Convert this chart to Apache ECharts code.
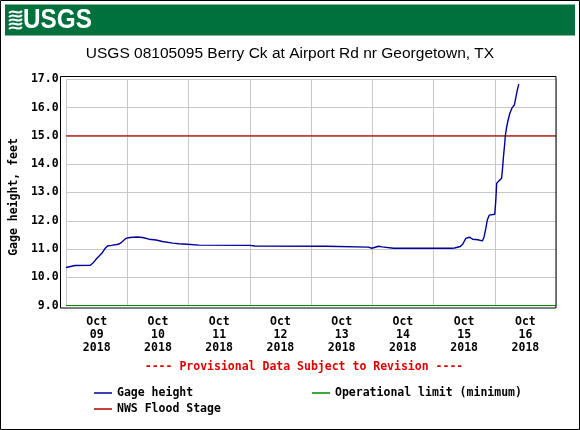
<!DOCTYPE html>
<html>
<head>
<meta charset="utf-8">
<script src="https://cdn.jsdelivr.net/npm/echarts@6/dist/echarts.min.js"></script>
<style>
  html, body { margin: 0; padding: 0; background: #fff; }
  #chart { width: 580px; height: 430px; }
</style>
</head>
<body>
<div id="chart"></div>
<script>
// gage readings (local time)
const startTime = '2018-10-09 00:00'
const endTime = '2018-10-17 00:00'
const times = [
  '2018-10-09 00:00', '2018-10-09 00:40', '2018-10-09 03:30', '2018-10-09 09:30',
  '2018-10-09 10:45', '2018-10-09 12:00', '2018-10-09 14:00', '2018-10-09 15:15',
  '2018-10-09 16:15', '2018-10-09 17:45', '2018-10-09 20:30', '2018-10-09 21:45',
  '2018-10-09 23:30', '2018-10-10 01:00', '2018-10-10 04:00', '2018-10-10 06:00',
  '2018-10-10 08:30', '2018-10-10 11:15', '2018-10-10 13:45', '2018-10-10 17:45',
  '2018-10-10 20:15', '2018-10-10 23:30', '2018-10-11 04:00', '2018-10-12 00:00',
  '2018-10-12 02:00', '2018-10-13 06:00', '2018-10-13 22:30', '2018-10-13 23:50',
  '2018-10-14 02:30', '2018-10-14 03:50', '2018-10-14 08:20', '2018-10-15 07:00',
  '2018-10-15 08:15', '2018-10-15 09:00', '2018-10-15 10:30', '2018-10-15 11:25',
  '2018-10-15 12:40', '2018-10-15 14:00', '2018-10-15 15:20', '2018-10-15 17:20',
  '2018-10-15 19:10', '2018-10-15 19:50', '2018-10-15 20:30', '2018-10-15 21:05',
  '2018-10-15 21:50', '2018-10-16 00:00', '2018-10-16 00:25', '2018-10-16 00:45',
  '2018-10-16 01:25', '2018-10-16 02:40', '2018-10-16 03:00', '2018-10-16 03:25',
  '2018-10-16 03:55', '2018-10-16 04:10', '2018-10-16 04:35', '2018-10-16 05:05',
  '2018-10-16 05:55', '2018-10-16 06:50', '2018-10-16 07:40', '2018-10-16 08:05',
  '2018-10-16 08:50', '2018-10-16 09:25'
]
const gageHeight = [
  10.35, 10.39, 10.42, 10.43,
  10.53, 10.67, 10.85, 11.02,
  11.11, 11.13, 11.17, 11.24,
  11.38, 11.41, 11.43, 11.41,
  11.35, 11.32, 11.27, 11.21,
  11.19, 11.17, 11.14, 11.13,
  11.11, 11.10, 11.07, 11.03,
  11.10, 11.08, 11.03, 11.03,
  11.04, 11.06, 11.09, 11.17,
  11.38, 11.42, 11.35, 11.33,
  11.29, 11.44, 11.73, 12.03,
  12.20, 12.23, 12.73, 13.33,
  13.38, 13.50, 13.80, 14.27,
  14.74, 15.03, 15.27, 15.50,
  15.80, 16.00, 16.09, 16.27,
  16.62, 16.83
]
const floodStage = 15.0
const operationalLimit = 9.0
const dayLabels = [
  'Oct\n09\n2018', 'Oct\n10\n2018', 'Oct\n11\n2018', 'Oct\n12\n2018',
  'Oct\n13\n2018', 'Oct\n14\n2018', 'Oct\n15\n2018', 'Oct\n16\n2018'
]

const mono = "'DejaVu Sans Mono', monospace"

function toHours(t) {
  const ms = Date.parse(t.replace(' ', 'T') + ':00Z') - Date.parse(startTime.replace(' ', 'T') + ':00Z')
  return ms / 3600000
}

const spanHours = toHours(endTime)
const gageData = times.map((t, i) => [toHours(t), gageHeight[i]])
const labelHours = dayLabels.map((d, i) => 12 + i * 24)

const chart = echarts.init(document.getElementById('chart'))

chart.setOption({
  animation: false,
  backgroundColor: '#fff',
  title: {
    text: 'USGS 08105095 Berry Ck at Airport Rd nr Georgetown, TX',
    left: 'center',
    top: 46,
    padding: 0,
    textStyle: {
      fontFamily: "'Liberation Sans', Arial, sans-serif",
      fontSize: 15.5,
      fontWeight: 'normal',
      color: '#000'
    }
  },
  grid: {
    left: 60.8,
    right: 24,
    top: 79.3,
    bottom: 124.3
  },
  xAxis: {
    type: 'value',
    min: 0,
    max: spanHours,
    interval: 24,
    axisLine: { show: false },
    axisTick: { show: false },
    splitLine: { show: true, lineStyle: { color: '#c8c8c8', width: 1 } },
    axisLabel: {
      customValues: labelHours,
      margin: 10,
      fontFamily: mono,
      fontWeight: 'bold',
      fontSize: 11.5,
      lineHeight: 13,
      color: '#000',
      formatter: v => dayLabels[Math.round((v - 12) / 24)]
    }
  },
  yAxis: {
    type: 'value',
    min: 9,
    max: 17,
    interval: 1,
    name: 'Gage height, feet',
    nameLocation: 'middle',
    nameRotate: 90,
    nameGap: 42,
    nameTextStyle: {
      fontFamily: mono,
      fontWeight: 'bold',
      fontSize: 11.5,
      color: '#000',
      padding: [0, 9, 0, 0]
    },
    axisLine: { show: false },
    axisTick: { show: false },
    splitLine: { show: true, lineStyle: { color: '#c8c8c8', width: 1 } },
    axisLabel: {
      margin: 7.5,
      fontFamily: mono,
      fontWeight: 'bold',
      fontSize: 11.5,
      color: '#000',
      formatter: v => v.toFixed(1)
    }
  },
  legend: [
    {
      data: ['Gage height', 'NWS Flood Stage'],
      orient: 'vertical',
      left: 94,
      top: 386.5,
      padding: 0,
      itemGap: 3,
      itemWidth: 18,
      itemHeight: 1.5,
      icon: 'rect',
      selectedMode: false,
      textStyle: { fontFamily: mono, fontWeight: 'bold', fontSize: 11.5, lineHeight: 13, color: '#000' }
    },
    {
      data: ['Operational limit (minimum)'],
      orient: 'vertical',
      left: 312,
      top: 386.5,
      padding: 0,
      itemWidth: 18,
      itemHeight: 1.5,
      icon: 'rect',
      selectedMode: false,
      textStyle: { fontFamily: mono, fontWeight: 'bold', fontSize: 11.5, lineHeight: 13, color: '#000' }
    }
  ],
  series: [
    {
      name: 'Operational limit (minimum)',
      type: 'line',
      data: [[0, operationalLimit], [spanHours, operationalLimit]],
      showSymbol: false,
      color: '#008a00',
      lineStyle: { color: '#008a00', width: 1.2 },
      z: 3
    },
    {
      name: 'NWS Flood Stage',
      type: 'line',
      data: [[0, floodStage], [spanHours, floodStage]],
      showSymbol: false,
      color: '#b80000',
      lineStyle: { color: '#b80000', width: 1.2 },
      z: 3
    },
    {
      name: 'Gage height',
      type: 'line',
      data: gageData,
      showSymbol: false,
      color: '#00009a',
      lineStyle: { color: '#00009a', width: 1.4 },
      z: 4
    }
  ],
  graphic: [
    // outer frame
    {
      type: 'rect',
      shape: { x: 0.5, y: 0.5, width: 579, height: 429 },
      style: { fill: 'none', stroke: '#000', lineWidth: 1 },
      z: 100
    },
    // header bar
    {
      type: 'rect',
      shape: { x: 5, y: 4.5, width: 570, height: 31 },
      style: { fill: '#00703c' },
      z: 10
    },
    // wave mark
    {
      type: 'group',
      x: 9,
      y: 11,
      z: 11,
      children: [0, 4, 8, 12, 16].map(dy => ({
        type: 'bezierCurve',
        shape: { x1: 0, y1: dy + 2, cpx1: 5, cpy1: dy - 3, cpx2: 8, cpy2: dy + 5, x2: 13, y2: dy },
        style: { stroke: '#fff', lineWidth: 2, fill: 'none' },
        z: 11
      }))
    },
    {
      type: 'text',
      x: 23,
      y: 21,
      z: 11,
      scaleX: 0.9,
      style: {
        text: 'USGS',
        fill: '#fff',
        font: "bold 27px 'Liberation Sans Narrow', 'Liberation Sans', sans-serif",
        textVerticalAlign: 'middle'
      }
    },
    // plot frame
    {
      type: 'rect',
      shape: { x: 60.5, y: 76.5, width: 495.5, height: 231.5 },
      style: { fill: 'none', stroke: '#000', lineWidth: 1 },
      z: 50
    },
    {
      type: 'text',
      x: 304,
      y: 367,
      z: 10,
      style: {
        text: '---- Provisional Data Subject to Revision ----',
        fill: '#e00000',
        font: "bold 11.5px 'DejaVu Sans Mono', monospace",
        textAlign: 'center',
        textVerticalAlign: 'middle'
      }
    }
  ]
})
</script>
</body>
</html>
